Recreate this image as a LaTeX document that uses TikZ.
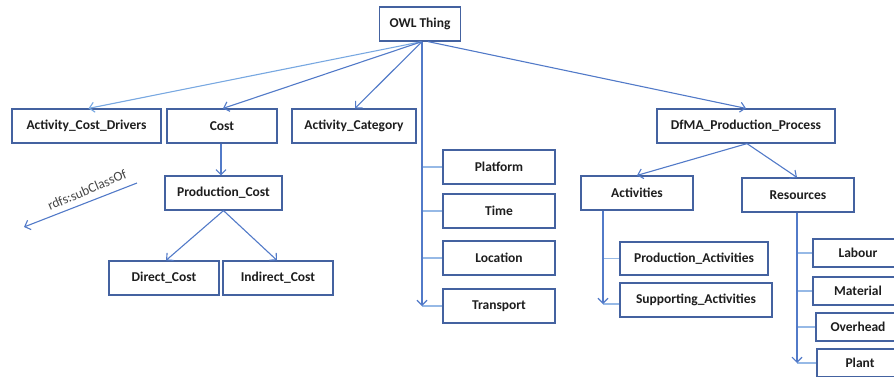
\documentclass[tikz,border=0pt]{standalone}
\usepackage{fontspec}
\setmainfont{Carlito}
\usetikzlibrary{arrows.meta}
\definecolor{boxc}{RGB}{68,98,160}
\definecolor{arrc}{RGB}{82,122,200}
\definecolor{lightarr}{RGB}{120,168,225}
\definecolor{tickc}{RGB}{150,185,230}
\definecolor{txt}{RGB}{30,30,30}
\definecolor{legtxt}{RGB}{70,70,70}
\begin{document}
\begin{tikzpicture}[x=1pt,y=-1pt,
  box/.style={draw=boxc, line width=1.2pt, inner sep=0pt, fill=white,
    font=\fontsize{13.5}{15}\selectfont\bfseries, text=txt},
  conn/.style={draw=arrc, line width=1.1pt, -{Straight Barb[length=5pt,width=10pt]}},
  lconn/.style={draw=lightarr, line width=1.1pt, -{Straight Barb[length=5pt,width=10pt]}},
  tick/.style={draw=tickc, line width=1.1pt}]
\useasboundingbox (0,0) rectangle (894,376);
\clip (0,0) rectangle (894,376);

% nodes
\node[box, minimum width=81pt, minimum height=34pt] (owl) at (420,24) {OWL Thing};
\node[box, minimum width=149pt, minimum height=34pt] (acd) at (86.5,126) {Activity\_Cost\_Drivers};
\node[box, minimum width=110pt, minimum height=34pt] (cost) at (222,126) {Cost};
\node[box, minimum width=124pt, minimum height=34pt] (actcat) at (354,126) {Activity\_Category};
\node[box, minimum width=178pt, minimum height=34pt] (dfma) at (746,126) {DfMA\_Production\_Process};
\node[box, minimum width=117pt, minimum height=34pt] (pcost) at (223.5,193) {Production\_Cost};
\node[box, minimum width=110pt, minimum height=34pt] (dcost) at (164,278) {Direct\_Cost};
\node[box, minimum width=110pt, minimum height=34pt] (icost) at (278,278) {Indirect\_Cost};

\node[box, minimum width=112pt, minimum height=34pt] (platform) at (499,167) {Platform};
\node[box, minimum width=112pt, minimum height=34pt] (time) at (499,211) {Time};
\node[box, minimum width=112pt, minimum height=34pt] (location) at (499,258) {Location};
\node[box, minimum width=112pt, minimum height=34pt] (transport) at (499,306) {Transport};

\node[box, minimum width=112pt, minimum height=34pt] (acts) at (637,193) {Activities};
\node[box, minimum width=112pt, minimum height=34pt] (res) at (798,195) {Resources};
\node[box, minimum width=148pt, minimum height=33pt] (prodact) at (694,258.5) {Production\_Activities};
\node[box, minimum width=152pt, minimum height=34pt] (suppact) at (696,300) {Supporting\_Activities};

\node[box, minimum width=90pt, minimum height=28pt] (labour) at (858,253) {Labour};
\node[box, minimum width=90pt, minimum height=28pt] (material) at (858,291) {Material};
\node[box, minimum width=84pt, minimum height=28pt] (overhead) at (858,327) {Overhead};
\node[box, minimum width=86pt, minimum height=28pt] (plant) at (860,363) {Plant};

% connectors from OWL Thing
\draw[lconn] ([xshift=2pt]owl.south) -- ([xshift=2pt]acd.north);
\draw[conn] ([xshift=2pt]owl.south) -- ([xshift=1pt]cost.north);
\draw[conn] ([xshift=2pt]owl.south) -- ([xshift=1pt]actcat.north);
\draw[conn] ([xshift=8pt]owl.south) -- (dfma.north);

\coordinate (oend) at (422,306);
\draw[tick] (oend |- platform.west) -- (platform.west);
\draw[tick] (oend |- time.west) -- (time.west);
\draw[tick] (oend |- location.west) -- (location.west);
\draw[tick] (oend |- transport.west) -- (transport.west);
\draw[conn] (oend |- owl.south) -- (oend);

% cost subtree
\draw[conn] ([xshift=-1pt]cost.south) -- ([xshift=-2.5pt]pcost.north);
\draw[conn] (pcost.south) -- ([xshift=2pt]dcost.north);
\draw[conn] (pcost.south) -- ([xshift=-1pt]icost.north);

% DfMA subtree
\draw[conn] ([xshift=1pt]dfma.south) -- (acts.north);
\draw[conn] ([xshift=1pt]dfma.south) -- ([xshift=-1pt]res.north);

\coordinate (aend) at (603,304);
\draw[tick] (aend |- prodact.west) -- (prodact.west);
\draw[tick] (aend) -- (suppact.west |- aend);
\draw[conn] (aend |- acts.south) -- (aend);

\coordinate (rend) at (797,363);
\draw[tick] (rend |- labour.west) -- (labour.west);
\draw[tick] (rend |- material.west) -- (material.west);
\draw[tick] (rend |- overhead.west) -- (overhead.west);
\draw[tick] (rend |- plant.west) -- (plant.west);
\draw[conn] (rend |- res.south) -- (rend);

% legend
\coordinate (ls) at (137,183);
\coordinate (le) at (24,227);
\draw[conn] (ls) -- (le);
\node[rotate=23, text=legtxt, font=\fontsize{13.5}{15}\selectfont, inner sep=0pt] (leg) at (87,190) {rdfs:subClassOf};
\end{tikzpicture}
\end{document}
